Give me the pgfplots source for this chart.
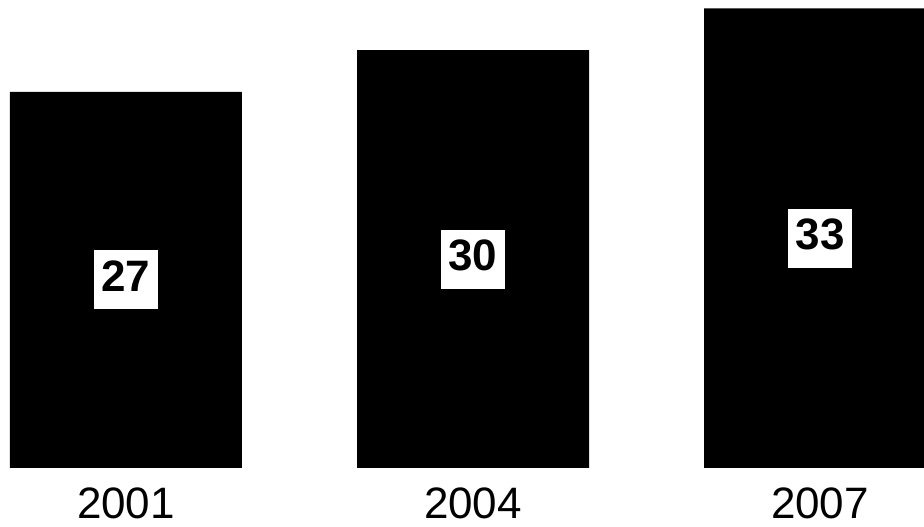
\documentclass[border=0pt]{standalone}
\usepackage{fontspec}
\setmainfont{Liberation Sans}
\usepackage{pgfplots}
\pgfplotsset{compat=1.18}
\begin{document}
\begin{tikzpicture}
\useasboundingbox (0,0) rectangle (924pt,527pt);
\begin{axis}[
  at={(0pt,59pt)}, anchor=south west,
  scale only axis, width=924pt, height=468pt,
  xmin=-0.3631, xmax=2.2997, ymin=0, ymax=33.6,
  axis line style={draw=none},
  major tick length=0pt,
  ytick=\empty,
  xtick={0,1,2},
  xticklabels={2001,2004,2007},
  xticklabel style={font=\fontsize{44}{46}\selectfont, anchor=base, yshift=-51pt, inner sep=0pt, text depth=0pt},
]
\addplot[ybar, bar width=232pt, fill=black, draw=none] coordinates {(0,27) (1,30) (2,33)};
\addplot[draw=none, mark=none, nodes near coords, point meta=explicit symbolic,
  nodes near coords style={anchor=center, fill=white, inner sep=0pt,
    minimum width=64pt, minimum height=59pt, text height=31pt, text depth=8pt,
    font=\fontsize{44}{48}\selectfont\bfseries}]
  coordinates {(0,13.5)[27] (1,15)[30] (2,16.5)[33]};
\end{axis}
\end{tikzpicture}
\end{document}
